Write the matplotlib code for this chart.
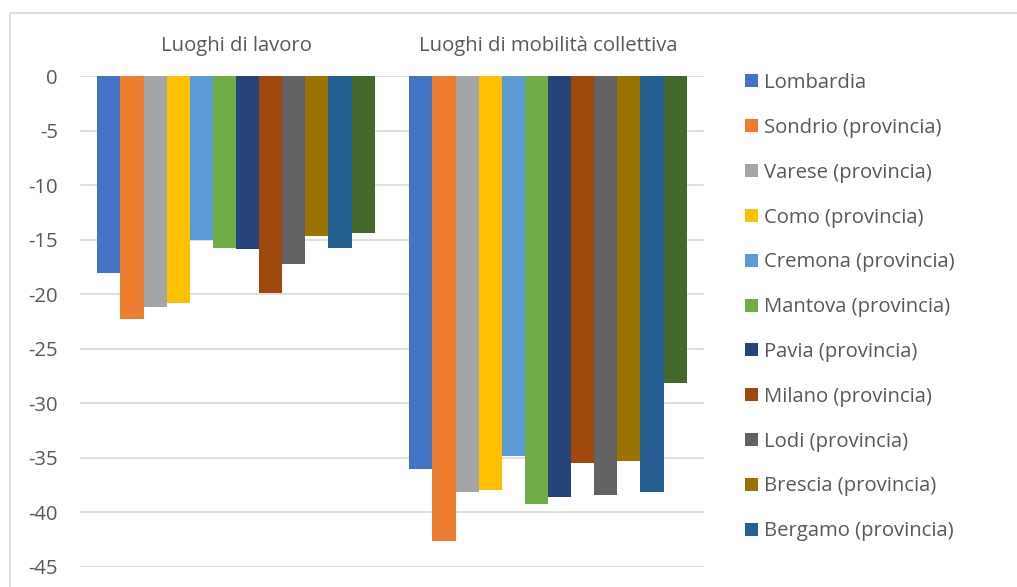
import matplotlib
matplotlib.use("Agg")
import matplotlib.pyplot as plt
from matplotlib.patches import Rectangle
import numpy as np

categories = ["Luoghi di lavoro", "Luoghi di mobilità collettiva"]
areas = [
    "Lombardia", "Sondrio (provincia)", "Varese (provincia)", "Como (provincia)",
    "Cremona (provincia)", "Mantova (provincia)", "Pavia (provincia)",
    "Milano (provincia)", "Lodi (provincia)", "Brescia (provincia)",
    "Bergamo (provincia)", "Monza e Brianza (provincia)",
]
lavoro = [-18.1, -22.3, -21.2, -20.8, -15.0, -15.8, -15.9, -19.9, -17.2, -14.7, -15.8, -14.4]
mobilita = [-36.0, -42.6, -38.1, -37.9, -34.8, -39.2, -38.6, -35.5, -38.4, -35.3, -38.1, -28.1]
colors = ["#4472C4", "#ED7D31", "#A5A5A5", "#FFC000", "#5B9BD5", "#70AD47",
          "#264478", "#9E480E", "#636363", "#997300", "#255E91", "#43682B"]
yticks = list(range(0, -50, -5))

W, H = 1017, 587
plt.rcParams["font.family"] = ["Open Sans", "DejaVu Sans"]
txt = "#595959"
fs = 14.6

fig = plt.figure(figsize=(W / 100, H / 100), dpi=100)

# chart border
fig.patches.append(Rectangle((10 / W, -0.1), 1.2, (H - 13) / H + 0.1,
                             transform=fig.transFigure, fill=False,
                             edgecolor="#D9D9D9", linewidth=1.2))

left, right = 80, 704
top, bottom = 76, 567
ax = fig.add_axes([left / W, 1 - bottom / H, (right - left) / W, (bottom - top) / H])

n = len(areas)
gap = 1.5
bw = 1.0 / (n + gap)
x = np.arange(len(categories))
values = np.array([lavoro, mobilita])  # shape (categories, areas)
for i in range(n):
    offs = (i - (n - 1) / 2) * bw
    ax.bar(x + offs, values[:, i], width=bw, color=colors[i], label=areas[i],
           zorder=3, linewidth=0)

ax.set_xlim(-0.5, len(categories) - 0.5)
ax.set_ylim(-45, 0)
ax.set_yticks(yticks)
ax.set_yticklabels([str(v) for v in yticks])
ax.tick_params(axis="y", length=0, pad=16, labelsize=fs, labelcolor=txt)
ax.tick_params(axis="x", length=0)
ax.set_xticks([])
ax.yaxis.grid(True, color="#D9D9D9", linewidth=1.2, zorder=0)
for s in ax.spines.values():
    s.set_visible(False)

# category labels above the zero line
for xi, c in zip(x, categories):
    ax.annotate(c, xy=(xi, 0), xytext=(0, 18), textcoords="offset points",
                ha="center", va="baseline", fontsize=fs, color=txt,
                annotation_clip=False)

# legend (first eleven entries fit in the chart area)
y0, dy = 81, 44.8
for i in range(11):
    yc = y0 + i * dy
    fig.patches.append(Rectangle((745 / W, 1 - (yc + 6.5) / H), 13 / W, 13 / H,
                                 transform=fig.transFigure, facecolor=colors[i],
                                 edgecolor="none"))
    fig.text(764 / W, 1 - (yc + 7.3) / H, areas[i], fontsize=fs, color=txt,
             ha="left", va="baseline")

fig.savefig("out.png", dpi=100)
